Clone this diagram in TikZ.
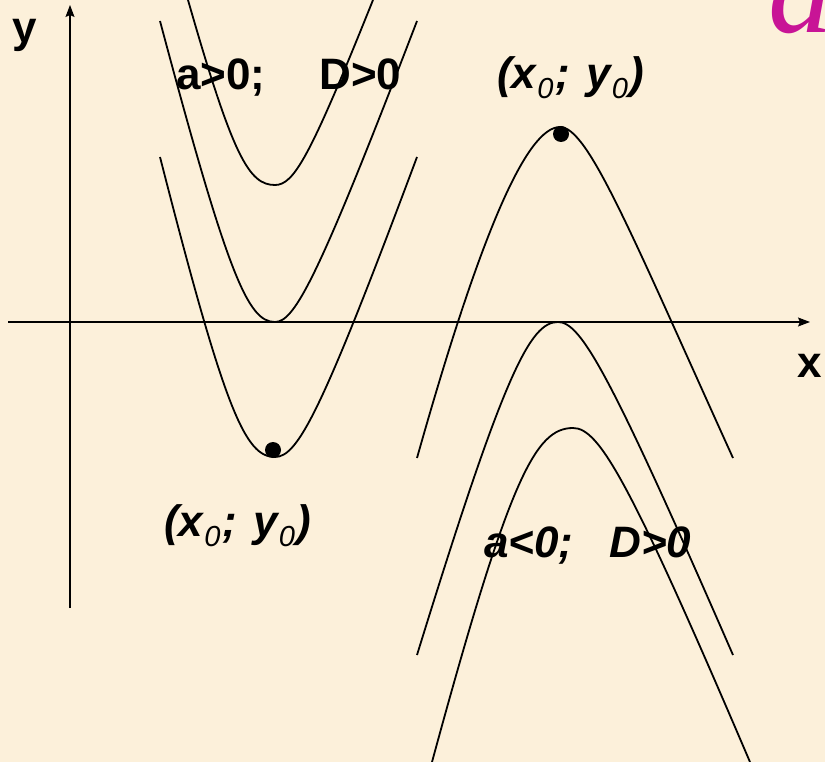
\documentclass[tikz,border=0pt]{standalone}
\usepackage{fontspec}
\setmainfont{Liberation Sans}
\newfontfamily\serifa{Liberation Serif}
\usetikzlibrary{arrows.meta}
\definecolor{fundo}{RGB}{252,240,218}
\definecolor{rosa}{RGB}{200,20,150}
\newcommand{\subz}{\hspace{1pt}\raisebox{-10pt}{\fontsize{29}{29}\selectfont\mdseries 0}\hspace{2pt}}

\begin{document}
\begin{tikzpicture}[
  x=1pt,y=-1pt,
  eixo/.style={line width=1.3pt,-{Stealth[length=12pt,width=9pt,inset=2pt]}},
  curva/.style={line width=1.8pt},
  rotulo/.style={font=\fontsize{44}{44}\selectfont\bfseries,inner sep=0pt},
  rotuloit/.style={rotulo,font=\fontsize{44}{44}\selectfont\bfseries\itshape},
  ponto/.style={circle,fill=black,inner sep=0pt,minimum size=16pt}
]
\useasboundingbox (0,0) rectangle (825,762);
\clip (0,0) rectangle (825,762);
\fill[fundo] (0,0) rectangle (825,762);
\node[anchor=base west,text=rosa,font=\fontsize{130}{130}\selectfont\serifa\itshape,inner sep=0pt] (titulo) at (768,33) {a};
% eixos
\coordinate (y0) at (70,608);
\coordinate (y1) at (70,5);
\coordinate (x0) at (8,322);
\coordinate (x1) at (810,322);
\draw[eixo] (y0) -- (y1);
\draw[eixo] (x0) -- (x1);
\node[rotulo,anchor=base] (ly) at (25,43) {y};
\node[rotulo,anchor=base] (lx) at (810,377) {x};
% a>0
\draw[curva] (188,0) .. controls (233,157) and (249,185) .. (275,185)
  .. controls (294,185) and (310,157) .. (373,0);
\draw[curva] (160,21) .. controls (228,276) and (248,322) .. (275,322)
  .. controls (295,322) and (319,276) .. (417,21);
\draw[curva] (160,157) .. controls (225,411) and (245,457) .. (275,457)
  .. controls (298,457) and (322,411) .. (417,157);
% a<0
\draw[curva] (417,458) .. controls (481,231) and (527,127) .. (560,127)
  .. controls (588,127) and (630,231) .. (733,458);
\draw[curva] (417,655) .. controls (504,373) and (530,322) .. (558,322)
  .. controls (581,322) and (610,373) .. (733,655);
\draw[curva] (432,762) .. controls (509,479) and (535,428) .. (573,428)
  .. controls (599,428) and (629,479) .. (750,762);
\node[ponto] (va) at (273,450) {};
\node[ponto] (vb) at (561,134) {};
\node[rotulo,anchor=base west] (ta) at (176,90) {a>0;\hspace{54pt}D>0};
\node[rotuloit,anchor=base west] (tb) at (484,557) {a<0;\hspace{36pt}D>0};
\node[rotuloit,anchor=base west] (pa) at (164,536) {(x\subz;\hspace{4pt} y\subz)};
\node[rotuloit,anchor=base west] (pb) at (497,89) {(x\subz;\hspace{4pt} y\subz)};
\end{tikzpicture}
\end{document}
